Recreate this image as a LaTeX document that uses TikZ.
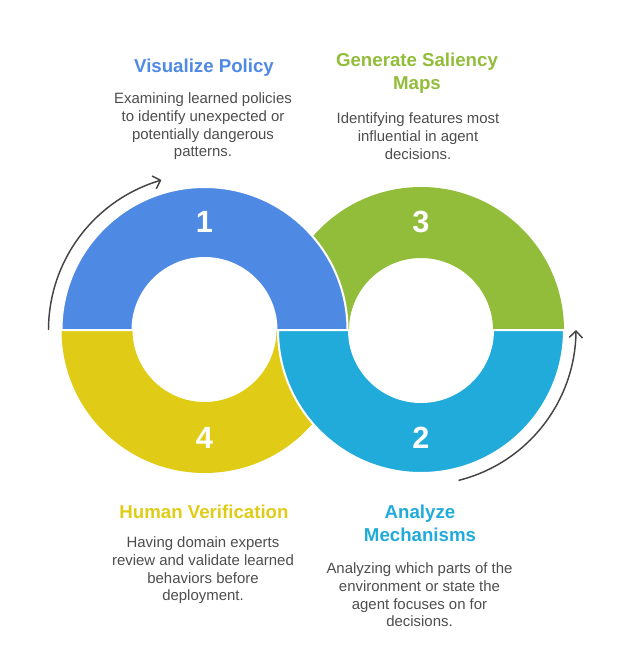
\documentclass[tikz,border=0pt]{standalone}
\usepackage{fontspec}
\setmainfont{Liberation Sans}
\usetikzlibrary{arrows.meta,bending}

\definecolor{polblue}{RGB}{78,137,227}
\definecolor{salgreen}{RGB}{146,189,58}
\definecolor{humyellow}{RGB}{224,204,22}
\definecolor{mechcyan}{RGB}{32,171,218}
\definecolor{txtgray}{RGB}{77,77,77}
\definecolor{arrgray}{RGB}{68,68,68}

\tikzset{
  headtext/.style={font=\fontsize{14}{17.5}\selectfont\bfseries, align=center, inner sep=0pt},
  bodytext/.style={font=\fontsize{11.2}{13.3}\selectfont, text=txtgray, align=center, inner sep=0pt},
  stepnum/.style={font=\fontsize{23}{23}\selectfont\bfseries, text=white, inner sep=0pt},
  sepline/.style={draw=white, line width=1.5pt},
  cycarrow/.style={draw=arrgray, line width=1.1pt, -{Straight Barb[length=5pt,width=10pt,bend]}},
}

\begin{document}
\begin{tikzpicture}[x=0.75pt,y=0.75pt,yscale=-1,xscale=1]
\useasboundingbox (0,0) rectangle (625,667);
\coordinate (lc) at (204.5,330);
\coordinate (rc) at (421,330);
% halves lying underneath
\fill[salgreen] (rc) ++(180:143) arc[start angle=180,end angle=360,radius=143] -- ++(-71,0) arc[start angle=360,end angle=180,radius=72] -- cycle;
\fill[humyellow] (lc) ++(180:143) arc[start angle=180,end angle=0,radius=143] -- ++(-71,0) arc[start angle=0,end angle=180,radius=72] -- cycle;
% halves on top
\path[fill=polblue, sepline] (lc) ++(180:143) arc[start angle=180,end angle=360,radius=143] -- ++(-71,0) arc[start angle=360,end angle=180,radius=72] -- cycle;
\path[fill=mechcyan, sepline] (rc) ++(180:143) arc[start angle=180,end angle=0,radius=143] -- ++(-71,0) arc[start angle=0,end angle=180,radius=72] -- cycle;
% step numbers
\node[stepnum] (n1) at (204.5,222) {1};
\node[stepnum] (n3) at (421,222) {3};
\node[stepnum] (n4) at (204.5,438) {4};
\node[stepnum] (n2) at (421,438) {2};
% cycle arrows
\draw[cycarrow] (lc) ++(180:156) arc[start angle=180,end angle=254,radius=156];
\draw[cycarrow] (rc) ++(76:155) arc[start angle=76,end angle=0,radius=155];
% texts
\node[headtext, text=polblue] (visT) at (204,68) {Visualize Policy};
\node[bodytext] (visD) at (203,126.5) {Examining learned policies\\to identify unexpected or\\potentially dangerous\\patterns.};
\node[headtext, text=salgreen] (salT) at (417,73.3) {Generate Saliency\\Maps};
\node[bodytext] (salD) at (418,136) {Identifying features most\\influential in agent\\decisions.};
\node[headtext, text=humyellow] (humT) at (204,511.7) {Human Verification};
\node[bodytext] (humD) at (203,570.5) {Having domain experts\\review and validate learned\\behaviors before\\deployment.};
\node[headtext, text=mechcyan] (mecT) at (420,523.5) {Analyze\\Mechanisms};
\node[bodytext] (mecD) at (419.5,595) {Analyzing which parts of the\\environment or state the\\agent focuses on for\\decisions.};
\end{tikzpicture}
\end{document}
